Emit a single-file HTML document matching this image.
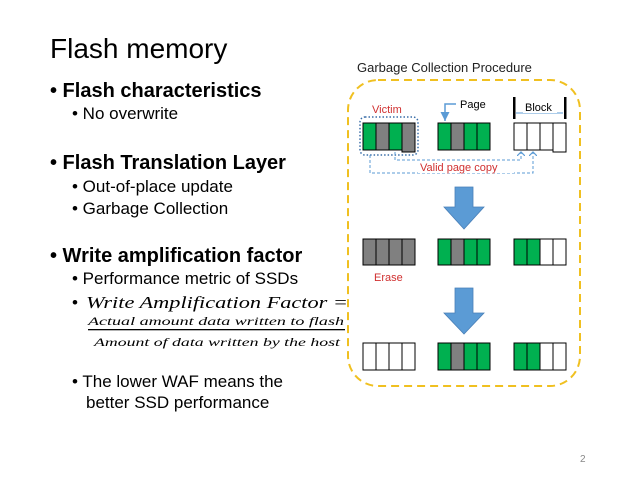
<!DOCTYPE html>
<html><head><meta charset="utf-8"><style>
html,body{margin:0;padding:0;background:#fff;}
svg{display:block;}
text{font-family:"Liberation Sans","DejaVu Sans",sans-serif;}
.m{font-family:"Liberation Serif","DejaVu Serif",serif;font-style:italic;}
</style></head><body>
<svg width="638" height="479" viewBox="0 0 638 479" xmlns="http://www.w3.org/2000/svg">
<defs>
<marker id="ah" markerWidth="8" markerHeight="8" refX="4" refY="4" orient="auto"><path d="M0,0 L4,4 L0,8" fill="none" stroke="#5b9bd5" stroke-width="1.2"/></marker>
<marker id="ab" markerWidth="8" markerHeight="8" refX="6" refY="4" orient="auto"><path d="M0,1 L6,4 L0,7 Z" fill="#5b9bd5"/></marker>
</defs>
<text x="50" y="58" font-size="28" fill="#000">Flash memory</text>
<g fill="#000">
<text x="50" y="97" font-size="20" font-weight="bold">• Flash characteristics</text>
<text x="72" y="119" font-size="17">• No overwrite</text>
<text x="50" y="169" font-size="20" font-weight="bold">• Flash Translation Layer</text>
<text x="72" y="192" font-size="17">• Out-of-place update</text>
<text x="72" y="214" font-size="17">• Garbage Collection</text>
<text x="50" y="262" font-size="20" font-weight="bold">• Write amplification factor</text>
<text x="72" y="284" font-size="17">• Performance metric of SSDs</text>
<text x="72" y="308" font-size="17">•</text>
<text x="86" y="308" font-size="17" class="m" textLength="262" lengthAdjust="spacingAndGlyphs">Write Amplification Factor =</text>
<text x="88" y="325" font-size="12" class="m" textLength="256" lengthAdjust="spacingAndGlyphs">Actual amount data written to flash</text>
<rect x="88" y="329" width="257" height="1.3"/>
<text x="94" y="346" font-size="12" class="m" textLength="246" lengthAdjust="spacingAndGlyphs">Amount of data written by the host</text>
<text x="72" y="387" font-size="17">• The lower WAF means the</text>
<text x="86" y="408" font-size="17">better SSD performance</text>
</g>
<text x="580" y="462" font-size="10" fill="#888">2</text>

<text x="357" y="72" font-size="13" fill="#222">Garbage Collection Procedure</text>
<rect x="348" y="80" width="232" height="306" rx="30" fill="none" stroke="#f0c020" stroke-width="2" stroke-dasharray="8,5"/>

<text x="372" y="113" font-size="11" fill="#d03030">Victim</text>
<rect x="360" y="117" width="58" height="38" rx="5" fill="none" stroke="#3a6ea8" stroke-width="1.5" stroke-dasharray="1.5,2"/>
<g stroke="#000" stroke-width="1">
<rect x="363" y="123" width="13" height="27" fill="#00b050"/>
<rect x="376" y="123" width="13" height="27" fill="#808080"/>
<rect x="389" y="123" width="13" height="27" fill="#00b050"/>
<rect x="402" y="123" width="13" height="29" fill="#808080"/>
<rect x="438" y="123" width="13" height="27" fill="#00b050"/>
<rect x="451" y="123" width="13" height="27" fill="#808080"/>
<rect x="464" y="123" width="13" height="27" fill="#00b050"/>
<rect x="477" y="123" width="13" height="27" fill="#00b050"/>
<rect x="514" y="123" width="13" height="27" fill="#fff"/>
<rect x="527" y="123" width="13" height="27" fill="#fff"/>
<rect x="540" y="123" width="13" height="27" fill="#fff"/>
<rect x="553" y="123" width="13" height="29" fill="#fff"/>
</g>
<text x="460" y="108" font-size="11" fill="#000">Page</text>
<path d="M456,104 H445 V121" fill="none" stroke="#5b9bd5" stroke-width="1.5" marker-end="url(#ab)"/>
<rect x="513" y="97" width="2.5" height="22" fill="#000"/>
<rect x="564" y="97" width="2.5" height="22" fill="#000"/>
<line x1="516" y1="113" x2="563" y2="113" stroke="#5b9bd5" stroke-width="1"/>
<rect x="523" y="101" width="34" height="12" fill="#fff"/>
<text x="525" y="111" font-size="11" fill="#000">Block</text>
<path d="M395,152 V160 H521 V152" fill="none" stroke="#5b9bd5" stroke-width="1" stroke-dasharray="3,2" marker-end="url(#ah)"/>
<path d="M370,155 V173 H533 V152" fill="none" stroke="#5b9bd5" stroke-width="1" stroke-dasharray="3,2" marker-end="url(#ah)"/>
<rect x="418" y="161" width="96" height="12" fill="#fff"/>
<text x="420" y="171" font-size="11" fill="#d03030">Valid page copy</text>

<path d="M455,187 H473 V207 H484 L464,229 L444,207 H455 Z" fill="#5b9bd5" stroke="#4a80b8" stroke-width="0.8"/>
<path d="M455,288 H473 V313 H484 L464,334 L444,313 H455 Z" fill="#5b9bd5" stroke="#4a80b8" stroke-width="0.8"/>

<g stroke="#000" stroke-width="1">
<rect x="363" y="239" width="13" height="26" fill="#808080"/>
<rect x="376" y="239" width="13" height="26" fill="#808080"/>
<rect x="389" y="239" width="13" height="26" fill="#808080"/>
<rect x="402" y="239" width="13" height="26" fill="#808080"/>
<rect x="438" y="239" width="13" height="26" fill="#00b050"/>
<rect x="451" y="239" width="13" height="26" fill="#808080"/>
<rect x="464" y="239" width="13" height="26" fill="#00b050"/>
<rect x="477" y="239" width="13" height="26" fill="#00b050"/>
<rect x="514" y="239" width="13" height="26" fill="#00b050"/>
<rect x="527" y="239" width="13" height="26" fill="#00b050"/>
<rect x="540" y="239" width="13" height="26" fill="#fff"/>
<rect x="553" y="239" width="13" height="26" fill="#fff"/>
</g>
<text x="374" y="281" font-size="11" fill="#d03030">Erase</text>

<g stroke="#000" stroke-width="1">
<rect x="363" y="343" width="13" height="27" fill="#fff"/>
<rect x="376" y="343" width="13" height="27" fill="#fff"/>
<rect x="389" y="343" width="13" height="27" fill="#fff"/>
<rect x="402" y="343" width="13" height="27" fill="#fff"/>
<rect x="438" y="343" width="13" height="27" fill="#00b050"/>
<rect x="451" y="343" width="13" height="27" fill="#808080"/>
<rect x="464" y="343" width="13" height="27" fill="#00b050"/>
<rect x="477" y="343" width="13" height="27" fill="#00b050"/>
<rect x="514" y="343" width="13" height="27" fill="#00b050"/>
<rect x="527" y="343" width="13" height="27" fill="#00b050"/>
<rect x="540" y="343" width="13" height="27" fill="#fff"/>
<rect x="553" y="343" width="13" height="27" fill="#fff"/>
</g>
</svg>
</body></html>
